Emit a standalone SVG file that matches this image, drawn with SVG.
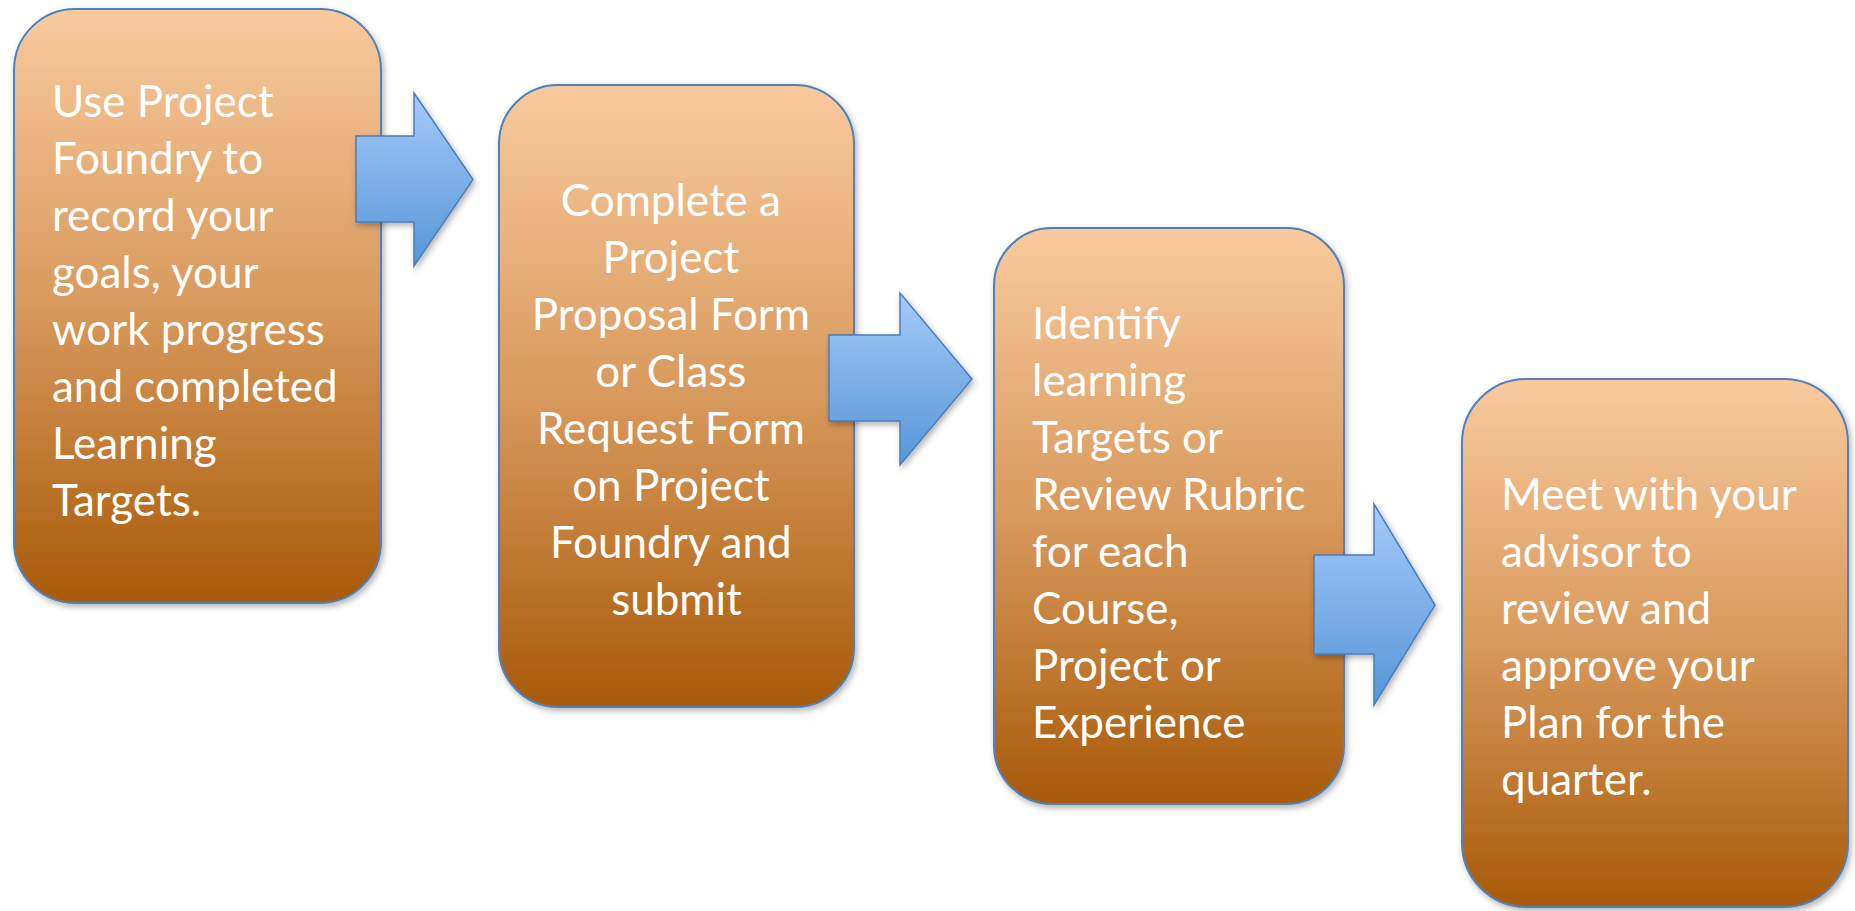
<svg xmlns="http://www.w3.org/2000/svg" width="1855" height="911" viewBox="0 0 1855 911">
  <defs>
    <linearGradient id="boxGrad" x1="0" y1="0" x2="0" y2="1">
      <stop offset="0" stop-color="#f9ca9e"/>
      <stop offset="0.5" stop-color="#d8995c"/>
      <stop offset="1" stop-color="#a85a08"/>
    </linearGradient>
    <linearGradient id="arrowGrad" x1="0" y1="0" x2="0" y2="1">
      <stop offset="0" stop-color="#a6caf9"/>
      <stop offset="1" stop-color="#5596d8"/>
    </linearGradient>
    <filter id="shadow" x="-10%" y="-10%" width="125%" height="125%">
      <feDropShadow dx="2" dy="3" stdDeviation="3" flood-color="#000" flood-opacity="0.3"/>
    </filter>
    <style>
      .box { fill: url(#boxGrad); stroke: #4f81bd; stroke-width: 2; filter: url(#shadow); }
      .arrow { fill: url(#arrowGrad); stroke: #4a7ebb; stroke-width: 1.5; stroke-linejoin: miter; filter: url(#shadow); }
      .lbl { font-family: "Lato", "Open Sans", sans-serif; font-size: 44px; fill: #ffffff; }
      .mid { text-anchor: middle; }
    </style>
  </defs>

  <g id="node1">
    <rect class="box" x="14" y="9" width="367" height="594" rx="61" ry="61"/>
    <text class="lbl">
      <tspan x="52" y="117">Use Project</tspan>
      <tspan x="52" y="174">Foundry to</tspan>
      <tspan x="52" y="231">record your</tspan>
      <tspan x="52" y="288">goals, your</tspan>
      <tspan x="52" y="345">work progress</tspan>
      <tspan x="52" y="402">and completed</tspan>
      <tspan x="52" y="459">Learning</tspan>
      <tspan x="52" y="516">Targets.</tspan>
    </text>
  </g>

  <g id="node2">
    <rect class="box" x="499" y="85" width="355" height="622" rx="59" ry="59"/>
    <text class="lbl mid">
      <tspan x="676.5" y="216">Complete a</tspan>
      <tspan x="676.5" y="273">Project</tspan>
      <tspan x="676.5" y="330">Proposal Form</tspan>
      <tspan x="676.5" y="387">or Class</tspan>
      <tspan x="676.5" y="444">Request Form</tspan>
      <tspan x="676.5" y="501">on Project</tspan>
      <tspan x="676.5" y="558">Foundry and</tspan>
      <tspan x="676.5" y="615">submit</tspan>
    </text>
  </g>

  <g id="node3">
    <rect class="box" x="994" y="228" width="350" height="576" rx="58" ry="58"/>
    <text class="lbl">
      <tspan x="1032" y="339">Identify</tspan>
      <tspan x="1032" y="396">learning</tspan>
      <tspan x="1032" y="453">Targets or</tspan>
      <tspan x="1032" y="510">Review Rubric</tspan>
      <tspan x="1032" y="567">for each</tspan>
      <tspan x="1032" y="624">Course,</tspan>
      <tspan x="1032" y="681">Project or</tspan>
      <tspan x="1032" y="738">Experience</tspan>
    </text>
  </g>

  <g id="node4">
    <rect class="box" x="1462" y="379" width="386" height="528" rx="64" ry="64"/>
    <text class="lbl">
      <tspan x="1501" y="510">Meet with your</tspan>
      <tspan x="1501" y="567">advisor to</tspan>
      <tspan x="1501" y="624">review and</tspan>
      <tspan x="1501" y="681">approve your</tspan>
      <tspan x="1501" y="738">Plan for the</tspan>
      <tspan x="1501" y="795">quarter.</tspan>
    </text>
  </g>

  <g id="connectors">
    <polygon class="arrow" points="356,136 414,136 414,93 473,179.5 414,266 414,222 356,222"/>
    <polygon class="arrow" points="829,335 900,335 900,293 972,379 900,465 900,421 829,421"/>
    <polygon class="arrow" points="1314,555 1374,555 1374,504 1435,605 1374,705 1374,654 1314,654"/>
  </g>
</svg>
